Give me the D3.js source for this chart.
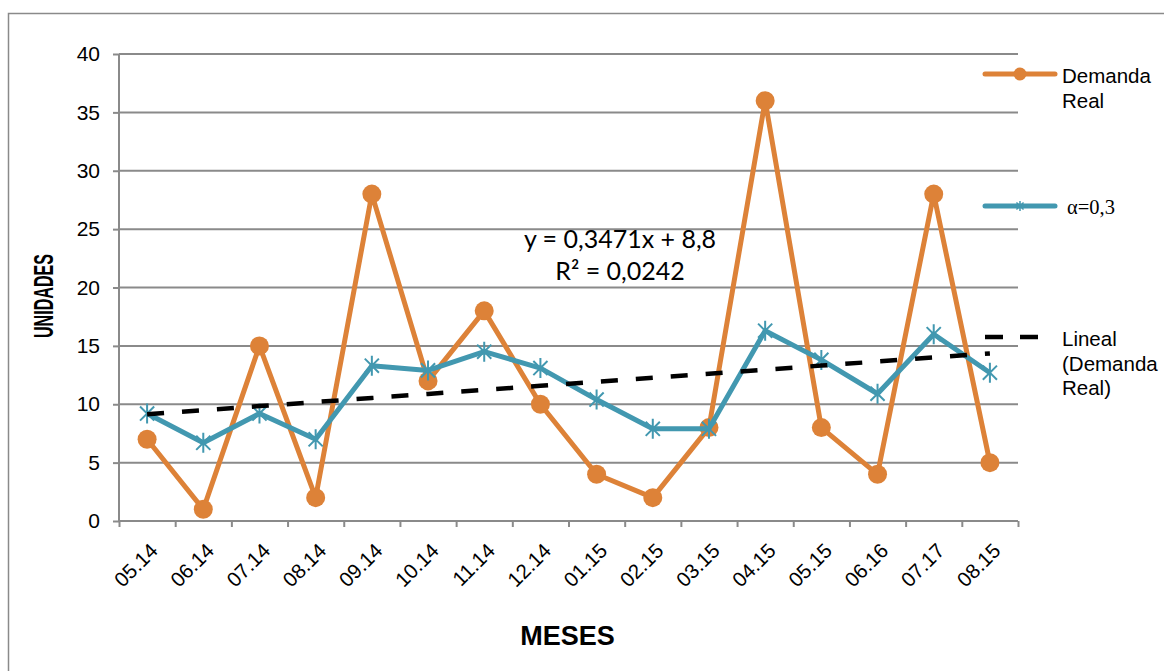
<!DOCTYPE html>
<html>
<head>
<meta charset="utf-8">
<script src="https://cdn.jsdelivr.net/npm/d3@7"></script>
<style>
  html, body { margin: 0; padding: 0; background: #fff; }
  svg { display: block; }
</style>
</head>
<body>
<svg id="chart" width="1164" height="671"></svg>
<script>
// Months on the category axis
const months = ["05.14","06.14","07.14","08.14","09.14","10.14","11.14","12.14",
                "01.15","02.15","03.15","04.15","05.15","06.16","07.17","08.15"];
// Actual demand per month
const demand = [7, 1, 15, 2, 28, 12, 18, 10, 4, 2, 8, 36, 8, 4, 28, 5];
// Exponentially smoothed series (alpha = 0.3)
const smoothed = [9.2, 6.7, 9.2, 7.0, 13.3, 12.9, 14.5, 13.1, 10.4, 7.9, 7.9, 16.3, 13.8, 10.9, 16.0, 12.7];
// Y axis ticks
const yTicks = [0, 5, 10, 15, 20, 25, 30, 35, 40];
// Linear trend of the demand: y = slope * x + intercept, x = 1..n
const trendSlope = 0.3471;
const trendIntercept = 8.8;
const trendLabel = ["y = 0,3471x + 8,8", "R\u00B2 = 0,0242"];

const ORANGE = "#dd8238";
const TEAL = "#4298b0";
const GRID = "#8a8a8a";
const SANS = "'Liberation Sans', Arial, sans-serif";

const svg = d3.select("#chart");

// Outer chart frame
svg.append("rect")
  .attr("x", 8.5).attr("y", 13.5)
  .attr("width", 1180).attr("height", 700)
  .attr("fill", "none").attr("stroke", GRID).attr("stroke-width", 1.5);

const plot = { left: 119, right: 1018, top: 54, bottom: 521 };

const x = d3.scaleLinear().domain([0, months.length]).range([plot.left, plot.right]);
const y = d3.scaleLinear().domain([0, 40]).range([plot.bottom, plot.top]);
const cx = i => x(i + 0.5);

// Horizontal gridlines
svg.append("g")
  .selectAll("line")
  .data(yTicks.filter(d => d > 0))
  .join("line")
  .attr("x1", plot.left).attr("x2", plot.right)
  .attr("y1", d => y(d)).attr("y2", d => y(d))
  .attr("stroke", GRID).attr("stroke-width", 2);

// Y axis
const yAxis = svg.append("g")
  .attr("transform", `translate(${plot.left},0)`)
  .call(d3.axisLeft(y).tickValues(yTicks).tickSize(6).tickPadding(13).tickFormat(d3.format("d")));
yAxis.selectAll("line, path").attr("stroke", GRID).attr("stroke-width", 2);
yAxis.select(".domain").attr("d", `M0,${plot.top}V${plot.bottom}`);
yAxis.selectAll("text")
  .attr("font-family", SANS).attr("font-size", 21).attr("fill", "#000");

// X axis: tick marks on category boundaries
const xAxis = svg.append("g")
  .attr("transform", `translate(0,${plot.bottom})`)
  .call(d3.axisBottom(x).tickValues(d3.range(months.length + 1)).tickSize(6).tickFormat(""));
xAxis.selectAll("line, path").attr("stroke", GRID).attr("stroke-width", 2);
xAxis.select(".domain").attr("d", `M${plot.left},0H${plot.right}`);

// Rotated month labels
svg.append("g")
  .selectAll("text")
  .data(months)
  .join("text")
  .attr("transform", (d, i) => `translate(${cx(i) + 12},${plot.bottom + 31}) rotate(-45)`)
  .attr("text-anchor", "end")
  .attr("font-family", SANS).attr("font-size", 20.5).attr("fill", "#000")
  .text(d => d);

// Axis titles
svg.append("text")
  .attr("transform", "translate(53,296) rotate(-90)")
  .attr("text-anchor", "middle")
  .attr("font-family", SANS).attr("font-weight", "bold").attr("font-size", 27)
  .attr("textLength", 84).attr("lengthAdjust", "spacingAndGlyphs")
  .text("UNIDADES");

svg.append("text")
  .attr("x", (plot.left + plot.right) / 2 - 1).attr("y", 645)
  .attr("text-anchor", "middle")
  .attr("font-family", SANS).attr("font-weight", "bold").attr("font-size", 27)
  .text("MESES");

const line = d3.line().x((d, i) => cx(i)).y(d => y(d));

// Demand series
svg.append("path")
  .datum(demand)
  .attr("d", line)
  .attr("fill", "none").attr("stroke", ORANGE).attr("stroke-width", 5)
  .attr("stroke-linejoin", "round");
svg.append("g")
  .selectAll("circle")
  .data(demand)
  .join("circle")
  .attr("cx", (d, i) => cx(i)).attr("cy", d => y(d)).attr("r", 9.5)
  .attr("fill", ORANGE);

// Smoothed series
svg.append("path")
  .datum(smoothed)
  .attr("d", line)
  .attr("fill", "none").attr("stroke", TEAL).attr("stroke-width", 5)
  .attr("stroke-linejoin", "round");

function star(g, px, py, r, w) {
  const a = r * Math.SQRT1_2;
  g.append("path")
    .attr("d", `M${px},${py - r}V${py + r}M${px - a},${py - a}L${px + a},${py + a}M${px - a},${py + a}L${px + a},${py - a}`)
    .attr("stroke", TEAL).attr("stroke-width", w).attr("fill", "none");
}
const stars = svg.append("g");
smoothed.forEach((d, i) => star(stars, cx(i), y(d), 10, 2));

// Trend line from the fitted equation
const trendPts = demand.map((d, i) => trendSlope * (i + 1) + trendIntercept);
svg.append("path")
  .datum(trendPts)
  .attr("d", line)
  .attr("fill", "none").attr("stroke", "#000").attr("stroke-width", 4.5)
  .attr("stroke-dasharray", "17,18");

// Trend equation label
svg.append("g")
  .selectAll("text")
  .data(trendLabel)
  .join("text")
  .attr("x", 620).attr("y", (d, i) => 248 + i * 32)
  .attr("text-anchor", "middle")
  .attr("font-family", "Lato, 'Open Sans', sans-serif").attr("font-size", 25).attr("fill", "#000")
  .text(d => d);

// Legend
const legend = svg.append("g");
legend.append("line")
  .attr("x1", 985).attr("x2", 1055).attr("y1", 74).attr("y2", 74)
  .attr("stroke", ORANGE).attr("stroke-width", 5).attr("stroke-linecap", "round");
legend.append("circle").attr("cx", 1020).attr("cy", 74).attr("r", 6.5).attr("fill", ORANGE);
legend.append("text")
  .attr("x", 1062).attr("font-family", SANS).attr("font-size", 20.5)
  .selectAll("tspan").data(["Demanda", "Real"]).join("tspan")
  .attr("x", 1062).attr("y", (d, i) => 83 + i * 25).text(d => d);

legend.append("line")
  .attr("x1", 985).attr("x2", 1055).attr("y1", 206).attr("y2", 206)
  .attr("stroke", TEAL).attr("stroke-width", 5).attr("stroke-linecap", "round");
star(legend, 1020, 206, 5, 1.5);
legend.append("text")
  .attr("x", 1067).attr("y", 214)
  .attr("font-family", "'Liberation Serif', 'Times New Roman', serif").attr("font-size", 20.5)
  .text("\u03B1=0,3");

legend.append("line")
  .attr("x1", 985).attr("x2", 1055).attr("y1", 337).attr("y2", 337)
  .attr("stroke", "#000").attr("stroke-width", 4.5).attr("stroke-dasharray", "18,17");
legend.append("text")
  .attr("font-family", SANS).attr("font-size", 20.5)
  .selectAll("tspan").data(["Lineal", "(Demanda", "Real)"]).join("tspan")
  .attr("x", 1062).attr("y", (d, i) => 346 + i * 24.5).text(d => d);
</script>
</body>
</html>
